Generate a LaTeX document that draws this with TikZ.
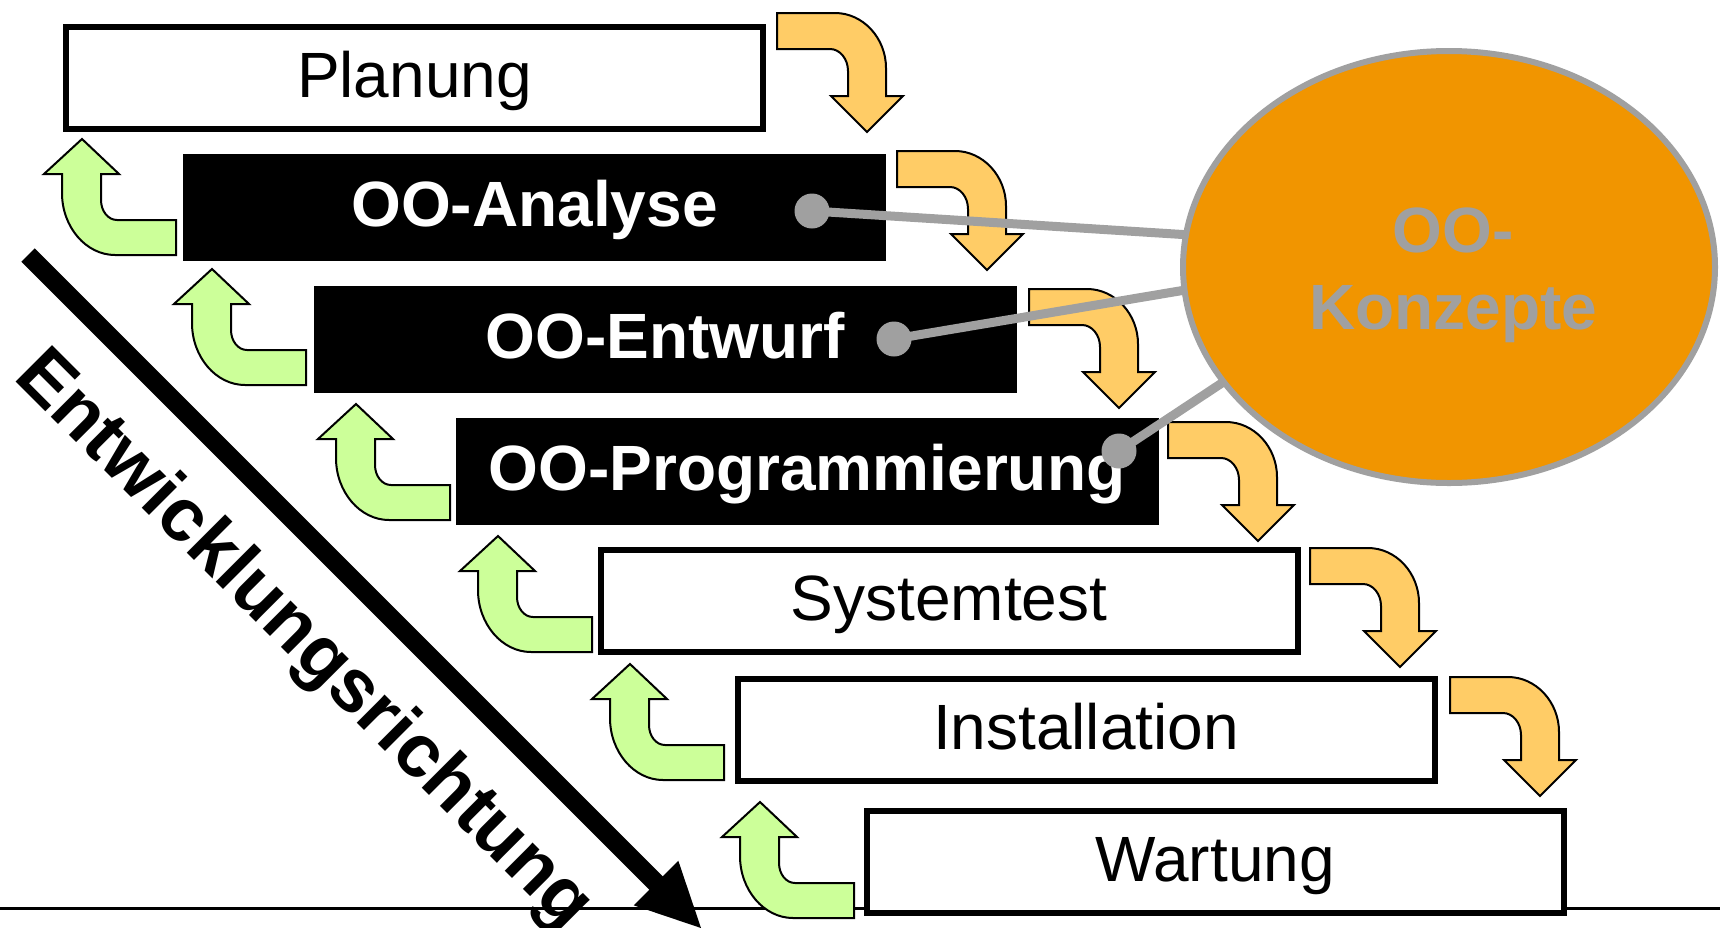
\documentclass[tikz,border=0pt]{standalone}
\usepackage{fontspec}
\setmainfont{Liberation Sans}
\usetikzlibrary{shapes.geometric}
\definecolor{turnorange}{RGB}{255,204,102}
\definecolor{turngreen}{RGB}{204,255,153}
\definecolor{conceptorange}{RGB}{241,149,0}
\definecolor{conceptgray}{RGB}{160,160,160}
\begin{document}
\begin{tikzpicture}[x=1pt,y=-1pt,
  stagebase/.style={rectangle, inner sep=0pt, outer sep=0pt,
    text height=50pt, text depth=12pt, font=\fontsize{64}{76}\selectfont},
  whitebox/.style={stagebase, draw=black, line width=6pt, fill=white,
    minimum width=697pt, minimum height=102pt},
  blackbox/.style={stagebase, fill=black, text=white,
    font=\fontsize{64}{76}\selectfont\bfseries,
    minimum width=703pt, minimum height=107pt},
  concepttext/.style={anchor=base, inner sep=0pt, text=conceptgray,
    font=\fontsize{64}{76}\selectfont\bfseries},
  dotmark/.style={circle, fill=conceptgray, inner sep=0pt, minimum size=35pt},
  conline/.style={draw=conceptgray, line width=9pt},
  orangeturn/.pic={
    \filldraw[fill=turnorange, draw=black, line width=2pt]
      (0,0) -- (58,0) .. controls (86,0) and (109,25) .. (109,55)
      -- (109,83) -- (126,83) -- (90,119) -- (54,83) -- (71,83) -- (71,58)
      .. controls (71,46) and (63,36) .. (53,36) -- (0,36) -- cycle;
  },
  greenturn/.pic={
    \filldraw[fill=turngreen, draw=black, line width=2pt]
      (0,0) -- (0,-35) -- (-59,-35) .. controls (-68,-35) and (-75,-44) .. (-75,-55)
      -- (-75,-81) -- (-57,-81) -- (-94,-116) -- (-132,-81) -- (-114,-81) -- (-114,-62)
      .. controls (-114,-28) and (-90,0) .. (-61,0) -- cycle;
  }
]
\useasboundingbox (0,0) rectangle (1720,927);

% ground line
\coordinate (groundL) at (0,908);
\coordinate (groundR) at (1720,908);
\draw[line width=3pt] (groundL) -- (groundR);

% direction arrow with its label
\coordinate (dirstart) at (28,255);
\coordinate (dirbase) at (660,887);
\coordinate (dirtip) at (701,928);
\coordinate (dirwingA) at (678.3,860.7);
\coordinate (dirwingB) at (633.7,905.3);
\draw[line width=19pt] (dirstart) -- (dirbase);
\fill (dirwingA) -- (dirtip) -- (dirwingB) -- cycle;
\node[anchor=base west, rotate=-45, inner sep=0pt,
      font=\fontsize{75}{90}\selectfont\bfseries] (dirlabel) at (12,378) {Entwicklungsrichtung};

% phases
\node[whitebox] (plan) at (414.5,78) {Planung};
\node[blackbox] (ana)  at (534.5,207.5) {OO-Analyse};
\node[blackbox] (ent)  at (665,339.5) {OO-Entwurf};
\node[blackbox] (prog) at (807,471.5) {OO-Programmierung};
\node[whitebox] (test) at (949,601) {Systemtest};
\node[whitebox] (inst) at (1086,730) {Installation};
\node[whitebox] (wart) at (1215,862) {Wartung};

% forward steps
\pic (fw1) at (777,13)   {orangeturn};
\pic (fw2) at (897,151)  {orangeturn};
\pic (fw3) at (1029,289) {orangeturn};
\pic (fw4) at (1168,422) {orangeturn};
\pic (fw5) at (1310,548) {orangeturn};
\pic (fw6) at (1450,677) {orangeturn};

% backward steps
\pic (bw1) at (176,255) {greenturn};
\pic (bw2) at (306,385) {greenturn};
\pic (bw3) at (450,520) {greenturn};
\pic (bw4) at (592,652) {greenturn};
\pic (bw5) at (724,780) {greenturn};
\pic (bw6) at (854,918) {greenturn};

% OO concepts
\node[ellipse, draw=conceptgray, line width=6pt, fill=conceptorange, inner sep=0pt,
      outer sep=0pt, minimum width=532pt, minimum height=432pt] (konz) at (1449,267) {};
\node[concepttext] (konzA) at (1453,252) {OO-};
\node[concepttext] (konzB) at (1453,329) {Konzepte};

% links from the OO phases to the concepts
\coordinate (linkA) at (812,211);
\coordinate (linkE) at (894,339);
\coordinate (linkP) at (1119,451);
\draw[conline] (linkA) -- (konz.173.4);
\draw[conline] (linkE) -- (konz.185.8);
\draw[conline] (linkP) -- (konz.207.6);
\node[dotmark] (dotA) at (linkA) {};
\node[dotmark] (dotE) at (linkE) {};
\node[dotmark] (dotP) at (linkP) {};
\end{tikzpicture}
\end{document}
